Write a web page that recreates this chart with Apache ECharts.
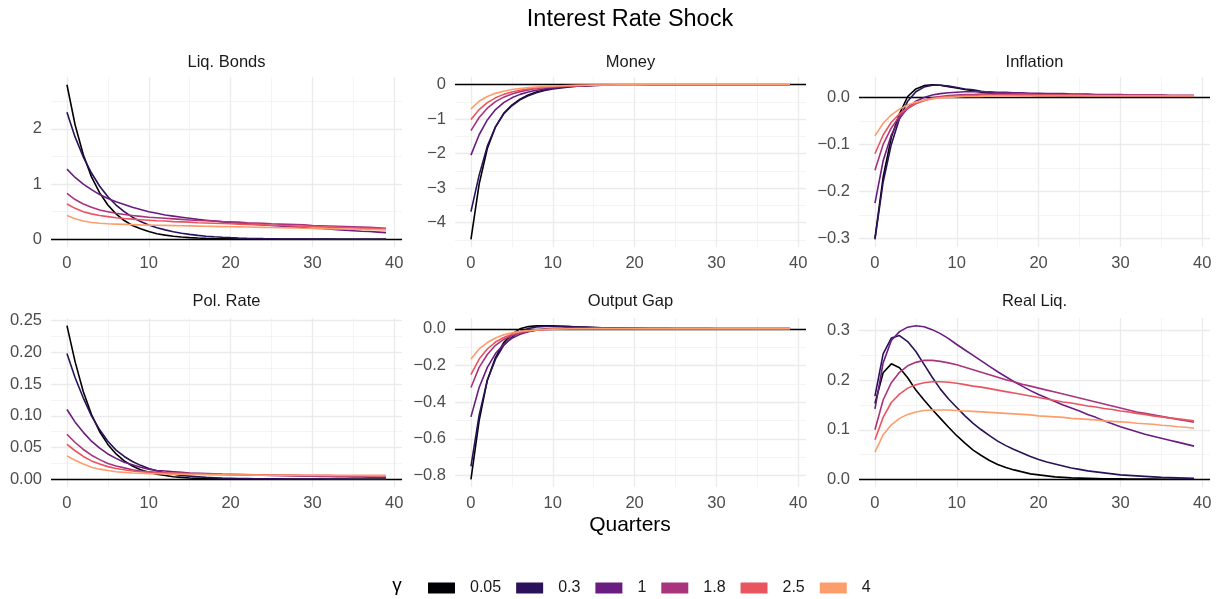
<!DOCTYPE html>
<html><head><meta charset="utf-8">
<script src="https://cdn.jsdelivr.net/npm/echarts@6/dist/echarts.min.js"></script>
<style>html,body{margin:0;padding:0;background:#fff}#c{width:1223px;height:599px}</style>
</head><body><div id="c"></div>
<script>
// ---------- DATA ----------
const quarters = [0,1,2,3,4,5,6,7,8,9,10,11,12,13,14,15,16,17,18,19,20,21,22,23,24,25,26,27,28,29,30,31,32,33,34,35,36,37,38,39];
const gammaLabels = ['0.05','0.3','1','1.8','2.5','4'];
const panelTitles = ['Liq. Bonds','Money','Inflation','Pol. Rate','Output Gap','Real Liq.'];

// Liq. Bonds
const liqBonds_005 = [2.80,2.07,1.53,1.13,0.84,0.62,0.46,0.34,0.25,0.19,0.14,0.10,0.075,0.055,0.04,0.03,0.022,0.016,0.012,0.009,0.007,0.005,0.004,0.003,0.002,0.0015,0.001,0.001,0.0008,0.0006,0.0005,0.0004,0.0003,0.0002,0.0002,0.0001,0.0001,0.0001,0.0001,0.0001];
const liqBonds_03 = [2.30,1.85,1.49,1.20,0.96,0.77,0.62,0.50,0.40,0.32,0.26,0.21,0.17,0.135,0.11,0.088,0.07,0.056,0.045,0.036,0.029,0.023,0.018,0.015,0.012,0.0095,0.0075,0.006,0.0048,0.0038,0.003,0.0024,0.0019,0.0015,0.0012,0.001,0.0008,0.0006,0.0005,0.0004];
const liqBonds_1 = [1.27,1.12,1.00,0.90,0.81,0.74,0.68,0.63,0.58,0.54,0.50,0.47,0.44,0.42,0.40,0.38,0.36,0.345,0.33,0.315,0.30,0.29,0.28,0.27,0.26,0.25,0.24,0.23,0.22,0.21,0.20,0.195,0.185,0.175,0.165,0.155,0.145,0.14,0.13,0.12];
const liqBonds_18 = [0.83,0.72,0.64,0.58,0.53,0.50,0.47,0.45,0.43,0.415,0.40,0.39,0.38,0.37,0.36,0.35,0.34,0.335,0.33,0.32,0.315,0.31,0.30,0.295,0.29,0.28,0.275,0.27,0.265,0.26,0.25,0.245,0.24,0.235,0.23,0.225,0.22,0.215,0.21,0.20];
const liqBonds_25 = [0.64,0.56,0.50,0.46,0.43,0.41,0.39,0.375,0.365,0.355,0.345,0.335,0.33,0.32,0.315,0.31,0.30,0.295,0.29,0.285,0.28,0.275,0.27,0.265,0.26,0.255,0.25,0.245,0.24,0.235,0.23,0.225,0.22,0.215,0.21,0.205,0.20,0.197,0.193,0.19];
const liqBonds_4 = [0.43,0.37,0.33,0.305,0.29,0.28,0.275,0.27,0.265,0.26,0.257,0.254,0.251,0.248,0.245,0.242,0.239,0.236,0.233,0.23,0.227,0.224,0.221,0.218,0.215,0.212,0.209,0.206,0.203,0.2,0.197,0.194,0.191,0.188,0.185,0.182,0.179,0.176,0.173,0.17];

// Money
const money_005 = [-4.48,-2.88,-1.85,-1.22,-0.83,-0.59,-0.42,-0.30,-0.21,-0.15,-0.10,-0.07,-0.05,-0.035,-0.025,-0.015,-0.01,-0.006,-0.003,-0.001,0,0,0,0,0,0,0,0,0,0,0,0,0,0,0,0,0,0,0,0];
const money_03 = [-3.68,-2.62,-1.78,-1.22,-0.85,-0.61,-0.44,-0.32,-0.23,-0.17,-0.12,-0.09,-0.065,-0.045,-0.03,-0.02,-0.015,-0.01,-0.006,-0.003,-0.002,-0.001,-0.001,0,0,0,0,0,0,0,0,0,0,0,0,0,0,0,0,0];
const money_1 = [-2.04,-1.45,-1.02,-0.72,-0.52,-0.38,-0.28,-0.21,-0.16,-0.12,-0.09,-0.07,-0.05,-0.04,-0.03,-0.02,-0.015,-0.01,-0.007,-0.005,-0.004,-0.003,-0.002,-0.002,-0.001,-0.001,0,0,0,0,0,0,0,0,0,0,0,0,0,0];
const money_18 = [-1.33,-0.95,-0.68,-0.49,-0.36,-0.27,-0.20,-0.15,-0.11,-0.085,-0.065,-0.05,-0.04,-0.03,-0.022,-0.016,-0.012,-0.009,-0.007,-0.005,-0.004,-0.003,-0.002,-0.002,-0.001,-0.001,0,0,0,0,0,0,0,0,0,0,0,0,0,0];
const money_25 = [-1.01,-0.72,-0.52,-0.38,-0.28,-0.21,-0.16,-0.12,-0.09,-0.07,-0.055,-0.042,-0.032,-0.025,-0.019,-0.015,-0.011,-0.008,-0.006,-0.005,-0.004,-0.003,-0.002,-0.002,-0.001,-0.001,0,0,0,0,0,0,0,0,0,0,0,0,0,0];
const money_4 = [-0.70,-0.48,-0.34,-0.25,-0.19,-0.14,-0.11,-0.085,-0.065,-0.05,-0.04,-0.031,-0.024,-0.018,-0.014,-0.011,-0.008,-0.006,-0.005,-0.004,-0.003,-0.002,-0.002,-0.001,-0.001,-0.001,0,0,0,0,0,0,0,0,0,0,0,0,0,0];

// Inflation
const infl_005 = [-0.300,-0.170,-0.085,-0.035,0.002,0.018,0.025,0.027,0.026,0.023,0.020,0.017,0.014,0.011,0.009,0.007,0.006,0.005,0.004,0.004,0.003,0.003,0.003,0.002,0.002,0.002,0.002,0.002,0.001,0.001,0.001,0.001,0.001,0.001,0.001,0.001,0.001,0.001,0.001,0.001];
const infl_03 = [-0.302,-0.180,-0.100,-0.045,-0.008,0.012,0.022,0.026,0.026,0.024,0.021,0.018,0.016,0.013,0.011,0.009,0.008,0.007,0.006,0.005,0.005,0.004,0.004,0.004,0.003,0.003,0.003,0.003,0.003,0.002,0.002,0.002,0.002,0.002,0.002,0.002,0.002,0.002,0.002,0.002];
const infl_1 = [-0.225,-0.135,-0.080,-0.045,-0.022,-0.008,0.000,0.005,0.008,0.010,0.011,0.012,0.012,0.012,0.012,0.011,0.011,0.010,0.010,0.009,0.009,0.008,0.008,0.008,0.007,0.007,0.007,0.006,0.006,0.006,0.006,0.005,0.005,0.005,0.005,0.005,0.004,0.004,0.004,0.004];
const infl_18 = [-0.155,-0.100,-0.065,-0.040,-0.024,-0.013,-0.006,-0.001,0.002,0.004,0.005,0.006,0.006,0.007,0.007,0.007,0.007,0.007,0.007,0.007,0.006,0.006,0.006,0.006,0.006,0.006,0.006,0.005,0.005,0.005,0.005,0.005,0.005,0.005,0.005,0.005,0.004,0.004,0.004,0.004];
const infl_25 = [-0.120,-0.080,-0.053,-0.035,-0.022,-0.013,-0.007,-0.003,0.000,0.002,0.003,0.004,0.004,0.005,0.005,0.005,0.005,0.005,0.005,0.005,0.005,0.005,0.005,0.005,0.005,0.005,0.004,0.004,0.004,0.004,0.004,0.004,0.004,0.004,0.004,0.004,0.004,0.004,0.004,0.004];
const infl_4 = [-0.082,-0.055,-0.037,-0.025,-0.016,-0.010,-0.006,-0.003,-0.001,0.000,0.001,0.002,0.002,0.002,0.003,0.003,0.003,0.003,0.003,0.003,0.003,0.003,0.003,0.003,0.003,0.003,0.003,0.003,0.003,0.003,0.003,0.003,0.003,0.003,0.003,0.003,0.003,0.003,0.003,0.003];

// Pol. Rate
const polRate_005 = [0.242,0.185,0.138,0.102,0.075,0.055,0.040,0.029,0.021,0.015,0.011,0.008,0.006,0.004,0.003,0.002,0.0015,0.001,0.0008,0.0006,0.0005,0.0004,0.0003,0.0002,0.0002,0.0001,0.0001,0.0001,0.0001,0.0001,0,0,0,0,0,0,0,0,0,0];
const polRate_03 = [0.198,0.160,0.128,0.100,0.078,0.060,0.046,0.036,0.028,0.022,0.017,0.013,0.010,0.008,0.006,0.005,0.004,0.003,0.0025,0.002,0.0017,0.0014,0.0012,0.001,0.0009,0.0008,0.0007,0.0006,0.0005,0.0005,0.0004,0.0004,0.0003,0.0003,0.0003,0.0002,0.0002,0.0002,0.0002,0.0002];
const polRate_1 = [0.110,0.090,0.074,0.060,0.049,0.040,0.033,0.027,0.023,0.019,0.016,0.014,0.013,0.012,0.011,0.010,0.0095,0.009,0.0085,0.008,0.0077,0.0074,0.0071,0.0068,0.0065,0.0062,0.0059,0.0056,0.0053,0.005,0.0048,0.0046,0.0044,0.0042,0.004,0.0038,0.0036,0.0034,0.0032,0.003];
const polRate_18 = [0.071,0.058,0.047,0.038,0.031,0.025,0.021,0.018,0.015,0.013,0.012,0.011,0.010,0.0095,0.009,0.0087,0.0084,0.0081,0.0078,0.0075,0.0073,0.0071,0.0069,0.0067,0.0065,0.0063,0.0061,0.0059,0.0057,0.0055,0.0054,0.0053,0.0052,0.0051,0.005,0.0049,0.0048,0.0047,0.0046,0.0045];
const polRate_25 = [0.055,0.045,0.036,0.029,0.024,0.020,0.017,0.015,0.013,0.012,0.011,0.0105,0.010,0.0097,0.0094,0.0091,0.0088,0.0085,0.0083,0.0081,0.0079,0.0077,0.0075,0.0073,0.0071,0.0069,0.0068,0.0067,0.0066,0.0065,0.0064,0.0063,0.0062,0.0061,0.006,0.006,0.0059,0.0059,0.0058,0.0058];
const polRate_4 = [0.037,0.030,0.024,0.019,0.016,0.014,0.012,0.011,0.010,0.0095,0.009,0.0087,0.0084,0.0081,0.0079,0.0077,0.0075,0.0073,0.0071,0.0070,0.0069,0.0068,0.0067,0.0066,0.0065,0.0064,0.0063,0.0062,0.0062,0.0061,0.0061,0.006,0.006,0.006,0.0059,0.0059,0.0059,0.0058,0.0058,0.0058];

// Output Gap
const outGap_005 = [-0.820,-0.500,-0.280,-0.157,-0.075,-0.029,0.000,0.012,0.016,0.017,0.016,0.014,0.012,0.010,0.008,0.006,0.005,0.004,0.003,0.002,0.002,0.001,0.001,0.001,0.001,0,0,0,0,0,0,0,0,0,0,0,0,0,0,0];
const outGap_03 = [-0.750,-0.470,-0.280,-0.165,-0.090,-0.045,-0.015,0.002,0.010,0.013,0.014,0.013,0.012,0.010,0.009,0.008,0.006,0.005,0.004,0.004,0.003,0.003,0.002,0.002,0.002,0.001,0.001,0.001,0.001,0.001,0,0,0,0,0,0,0,0,0,0];
const outGap_1 = [-0.480,-0.320,-0.210,-0.135,-0.085,-0.052,-0.030,-0.016,-0.007,-0.002,0.001,0.003,0.004,0.004,0.004,0.004,0.004,0.003,0.003,0.003,0.003,0.002,0.002,0.002,0.002,0.002,0.002,0.001,0.001,0.001,0.001,0.001,0.001,0.001,0.001,0.001,0.001,0.001,0.001,0.001];
const outGap_18 = [-0.320,-0.210,-0.140,-0.090,-0.058,-0.037,-0.023,-0.014,-0.008,-0.004,-0.002,0.000,0.001,0.001,0.002,0.002,0.002,0.002,0.002,0.002,0.001,0.001,0.001,0.001,0.001,0.001,0.001,0.001,0.001,0.001,0.001,0.001,0.001,0.001,0.001,0.001,0.001,0.001,0.001,0.001];
const outGap_25 = [-0.250,-0.165,-0.110,-0.072,-0.047,-0.030,-0.019,-0.012,-0.007,-0.004,-0.002,-0.001,0.000,0.001,0.001,0.001,0.001,0.001,0.001,0.001,0.001,0.001,0.001,0.001,0.001,0.001,0.001,0.001,0.001,0.001,0.001,0.001,0.001,0.001,0.001,0.001,0.001,0.001,0.001,0.001];
const outGap_4 = [-0.165,-0.110,-0.075,-0.050,-0.033,-0.022,-0.014,-0.009,-0.006,-0.004,-0.002,-0.001,0.000,0.000,0.000,0.001,0.001,0.001,0.001,0.001,0.001,0.001,0.001,0.001,0.001,0.001,0.001,0.001,0.001,0.001,0.001,0.001,0.001,0.001,0.001,0.001,0.001,0.001,0.001,0.001];

// Real Liq.
const realLiq_005 = [0.153,0.215,0.233,0.225,0.205,0.180,0.160,0.141,0.123,0.105,0.088,0.073,0.059,0.048,0.038,0.030,0.024,0.019,0.015,0.011,0.009,0.007,0.005,0.004,0.003,0.0025,0.002,0.0015,0.001,0.001,0.0008,0.0006,0.0005,0.0004,0.0003,0.0002,0.0002,0.0001,0.0001,0.0001];
const realLiq_03 = [0.168,0.253,0.285,0.290,0.278,0.258,0.232,0.206,0.182,0.162,0.145,0.128,0.113,0.100,0.088,0.077,0.068,0.060,0.053,0.046,0.040,0.035,0.031,0.027,0.023,0.020,0.017,0.015,0.013,0.011,0.009,0.008,0.007,0.006,0.005,0.004,0.0035,0.003,0.0025,0.002];
const realLiq_1 = [0.142,0.235,0.280,0.298,0.307,0.310,0.308,0.302,0.294,0.284,0.272,0.261,0.250,0.239,0.228,0.217,0.207,0.197,0.188,0.179,0.171,0.164,0.157,0.150,0.144,0.138,0.131,0.125,0.118,0.112,0.106,0.101,0.096,0.091,0.087,0.083,0.079,0.075,0.071,0.067];
const realLiq_18 = [0.100,0.160,0.195,0.216,0.229,0.236,0.240,0.240,0.238,0.235,0.231,0.226,0.221,0.216,0.211,0.206,0.201,0.197,0.192,0.188,0.184,0.180,0.176,0.172,0.168,0.164,0.160,0.156,0.152,0.148,0.144,0.140,0.136,0.133,0.130,0.127,0.124,0.121,0.118,0.115];
const realLiq_25 = [0.080,0.125,0.155,0.172,0.184,0.191,0.195,0.197,0.197,0.196,0.194,0.191,0.188,0.186,0.183,0.180,0.177,0.174,0.171,0.168,0.165,0.162,0.159,0.156,0.154,0.151,0.148,0.146,0.143,0.141,0.138,0.136,0.133,0.131,0.128,0.126,0.124,0.122,0.120,0.118];
const realLiq_4 = [0.055,0.090,0.110,0.123,0.131,0.136,0.139,0.140,0.140,0.140,0.139,0.138,0.137,0.136,0.135,0.134,0.133,0.132,0.131,0.130,0.128,0.127,0.126,0.125,0.123,0.122,0.121,0.120,0.118,0.117,0.116,0.115,0.113,0.112,0.111,0.109,0.108,0.106,0.105,0.103];

// Tick values
const xTicks = [0,10,20,30,40];
const xMinorTicks = [5,15,25,35];
const liqBondsTicks = [0,1,2];           const liqBondsMinor = [0.5,1.5,2.5];
const moneyTicks = [-4,-3,-2,-1,0];      const moneyMinor = [-4.5,-3.5,-2.5,-1.5,-0.5];
const inflTicks = [-0.3,-0.2,-0.1,0];    const inflMinor = [-0.25,-0.15,-0.05];
const polRateTicks = [0,0.05,0.10,0.15,0.20,0.25]; const polRateMinor = [0.025,0.075,0.125,0.175,0.225];
const outGapTicks = [-0.8,-0.6,-0.4,-0.2,0]; const outGapMinor = [-0.7,-0.5,-0.3,-0.1];
const realLiqTicks = [0,0.1,0.2,0.3];    const realLiqMinor = [0.05,0.15,0.25];

// ---------- BUILD ----------
const panels = [
  {series:[liqBonds_005,liqBonds_03,liqBonds_1,liqBonds_18,liqBonds_25,liqBonds_4], ticks:liqBondsTicks, minor:liqBondsMinor, dec:0},
  {series:[money_005,money_03,money_1,money_18,money_25,money_4], ticks:moneyTicks, minor:moneyMinor, dec:0},
  {series:[infl_005,infl_03,infl_1,infl_18,infl_25,infl_4], ticks:inflTicks, minor:inflMinor, dec:1},
  {series:[polRate_005,polRate_03,polRate_1,polRate_18,polRate_25,polRate_4], ticks:polRateTicks, minor:polRateMinor, dec:2},
  {series:[outGap_005,outGap_03,outGap_1,outGap_18,outGap_25,outGap_4], ticks:outGapTicks, minor:outGapMinor, dec:1},
  {series:[realLiq_005,realLiq_03,realLiq_1,realLiq_18,realLiq_25,realLiq_4], ticks:realLiqTicks, minor:realLiqMinor, dec:1}
];
const colors = ['#000004','#2A1159','#6A1C81','#AA337D','#E9555F','#FD9D6C'];
const FONT = '"Liberation Sans", Arial, Helvetica, sans-serif';
const colLeft = [51, 455, 859], panelW = 351;
const rowTop = [77, 318], rowH = [170, 169];

const xLo = Math.min(...quarters), xHi = Math.max(...quarters), xPad = (xHi - xLo) * 0.05;
const xMin = xLo - xPad, xMax = xHi + xPad;

const fmt = (v, d) => (v < -1e-12 ? '\u2212' : '') + Math.abs(v).toFixed(d);

const grid = [], xAxis = [], yAxis = [], series = [], graphic = [];
const majorLine = {color:'#EBEBEB', width:1.3};
const minorLine = {color:'#EDEDED', width:0.6};

panels.forEach((p, i) => {
  const r = Math.floor(i / 3), c = i % 3;
  grid.push({left: colLeft[c], top: rowTop[r], width: panelW, height: rowH[r], containLabel: false});
  let lo = 0, hi = 0;
  p.series.forEach(s => s.forEach(v => { if (v < lo) lo = v; if (v > hi) hi = v; }));
  const pad = (hi - lo) * 0.05;
  const yMin = lo - pad, yMax = hi + pad;

  xAxis.push({type:'value', gridIndex:i, min:xMin, max:xMax, position:'bottom',
    axisLine:{show:false}, axisTick:{show:false, customValues:xTicks},
    axisLabel:{customValues:xTicks, color:'#4D4D4D', fontSize:16.5, margin:8, fontFamily:FONT},
    splitLine:{show:true, lineStyle:majorLine}});
  xAxis.push({type:'value', gridIndex:i, min:xMin, max:xMax, position:'top',
    axisLine:{show:false}, axisTick:{show:false, customValues:xMinorTicks},
    axisLabel:{show:false, customValues:xMinorTicks},
    splitLine:{show:true, lineStyle:minorLine}});
  yAxis.push({type:'value', gridIndex:i, min:yMin, max:yMax, position:'left',
    axisLine:{show:false}, axisTick:{show:false, customValues:p.ticks},
    axisLabel:{customValues:p.ticks, color:'#4D4D4D', fontSize:16.5, margin:9, fontFamily:FONT,
      formatter: v => fmt(v, p.dec)},
    splitLine:{show:true, lineStyle:majorLine}});
  yAxis.push({type:'value', gridIndex:i, min:yMin, max:yMax, position:'right',
    axisLine:{show:false}, axisTick:{show:false, customValues:p.minor},
    axisLabel:{show:false, customValues:p.minor},
    splitLine:{show:true, lineStyle:minorLine}});

  p.series.forEach((vals, g) => {
    const s = {
      type:'line', name: gammaLabels[g], xAxisIndex: 2*i, yAxisIndex: 2*i,
      data: quarters.map((q, k) => [q, vals[k]]),
      symbol:'none', showSymbol:false, smooth:false, animation:false,
      lineStyle:{color: colors[g], width:1.6}, itemStyle:{color: colors[g]},
      emphasis:{disabled:true}, z: 3
    };
    if (g === 0) {
      s.markLine = {silent:true, symbol:'none', z:1, animation:false,
        label:{show:false}, lineStyle:{color:'#000000', width:1.4, type:'solid'},
        emphasis:{disabled:true}, data:[{yAxis:0}]};
    }
    series.push(s);
  });

  graphic.push({type:'text', x: colLeft[c] + panelW/2, y: r === 0 ? 62 : 301, silent:true,
    style:{text: panelTitles[i], fill:'#1A1A1A', font:'16.5px ' + FONT,
      align:'center', verticalAlign:'middle', textAlign:'center', textVerticalAlign:'middle'}});
});

graphic.push({type:'text', x:630, y:20, silent:true,
  style:{text:'Interest Rate Shock', fill:'#000000', font:'23.5px ' + FONT,
    align:'center', verticalAlign:'middle', textAlign:'center', textVerticalAlign:'middle'}});
graphic.push({type:'text', x:630, y:525, silent:true,
  style:{text:'Quarters', fill:'#000000', font:'21px ' + FONT,
    align:'center', verticalAlign:'middle', textAlign:'center', textVerticalAlign:'middle'}});
graphic.push({type:'text', x:397, y:586, silent:true,
  style:{text:'\u03B3', fill:'#000000', font:'19px ' + FONT,
    align:'center', verticalAlign:'middle', textAlign:'center', textVerticalAlign:'middle'}});

const chart = echarts.init(document.getElementById('c'), null, {renderer:'canvas'});
chart.setOption({
  backgroundColor:'#ffffff',
  animation:false,
  textStyle:{fontFamily:FONT},
  grid, xAxis, yAxis, series, graphic,
  legend:{data: gammaLabels, left:428, top:580, padding:0, icon:'rect',
    itemWidth:27, itemHeight:11, itemGap:15, selectedMode:false,
    textStyle:{fontSize:16, color:'#1A1A1A', fontFamily:FONT, padding:[0,0,0,10]}}
});
</script></body></html>
